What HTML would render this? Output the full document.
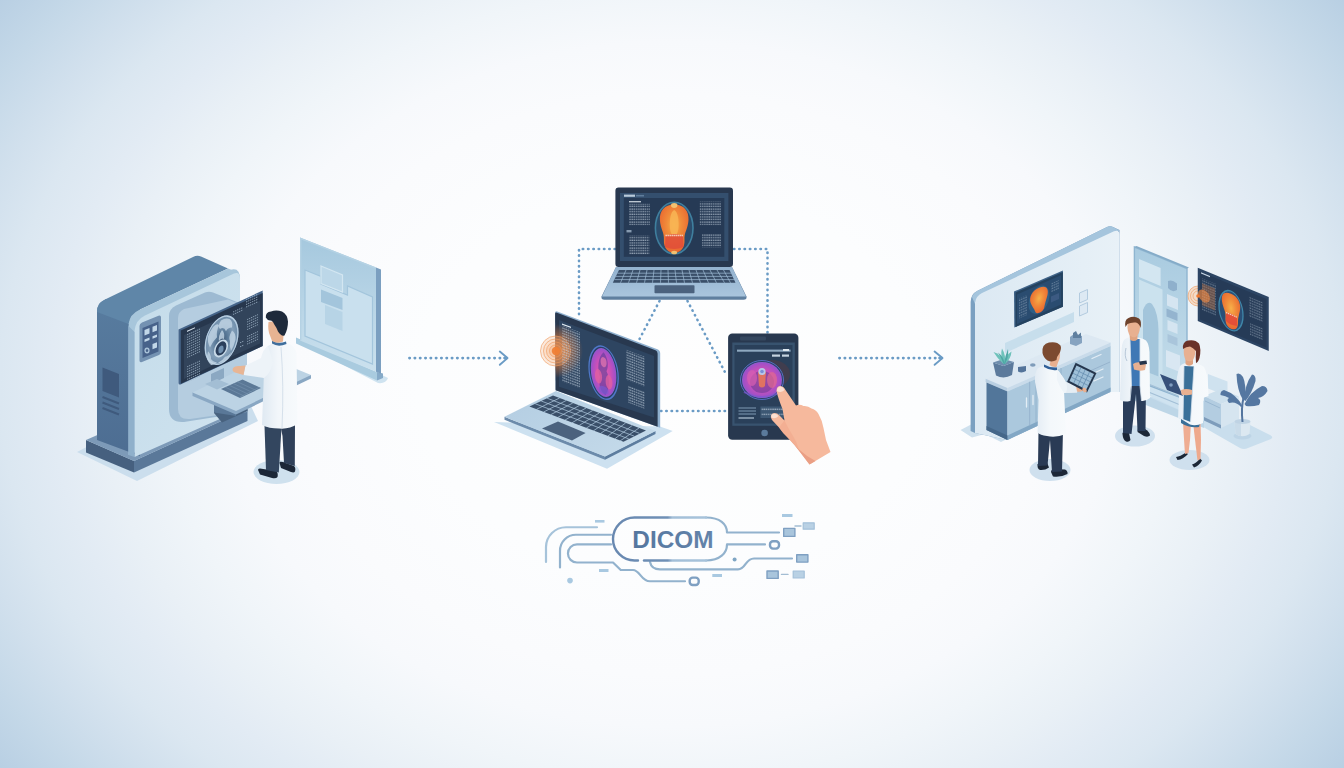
<!DOCTYPE html>
<html lang="en">
<head>
<meta charset="utf-8">
<title>DICOM</title>
<style>
html,body{margin:0;padding:0;width:1344px;height:768px;overflow:hidden;background:#f6f9fb;}
svg{display:block;position:absolute;left:0;top:0;}
text{font-family:"Liberation Sans",sans-serif;}
</style>
</head>
<body>
<svg width="1344" height="768" viewBox="0 0 1344 768">
<defs>
<radialGradient id="bg" gradientUnits="userSpaceOnUse" cx="0" cy="0" r="840" gradientTransform="translate(672 384) scale(1 0.769)">
<stop offset="0" stop-color="#fefefe"/>
<stop offset="0.3" stop-color="#fcfdfe"/>
<stop offset="0.45" stop-color="#fafbfd"/>
<stop offset="0.53" stop-color="#f7f9fc"/>
<stop offset="0.61" stop-color="#f0f5f9"/>
<stop offset="0.68" stop-color="#e9f0f6"/>
<stop offset="0.74" stop-color="#e2ebf4"/>
<stop offset="0.8" stop-color="#dbe7f1"/>
<stop offset="0.86" stop-color="#d1e0ed"/>
<stop offset="0.93" stop-color="#c4d8e8"/>
<stop offset="1" stop-color="#b8cfe3"/>
</radialGradient>
<linearGradient id="pillg" gradientUnits="userSpaceOnUse" x1="612" y1="0" x2="728" y2="0">
<stop offset="0" stop-color="#6888b0"/>
<stop offset="0.48" stop-color="#6f90b6"/>
<stop offset="0.52" stop-color="#a3bfd8"/>
<stop offset="1" stop-color="#a9c5dc"/>
</linearGradient>
<linearGradient id="txtg" gradientUnits="userSpaceOnUse" x1="632" y1="0" x2="712" y2="0">
<stop offset="0" stop-color="#54769f"/>
<stop offset="1" stop-color="#6484aa"/>
</linearGradient>
</defs>
<rect width="1344" height="768" fill="url(#bg)"/>

<!-- ===== ARROWS ===== -->
<g id="arrows" stroke="#6a9bc5" stroke-width="1.900" fill="none" stroke-linecap="round" stroke-linejoin="round">
<path d="M409.400 358.100H500.500" stroke-dasharray="0.400 4.910" stroke-width="2.600"/>
<path d="M499.800 351.600L507.500 358.100L499.800 364.800"/>
<path d="M504.500 358.100H506.500" stroke-width="2.600"/>
<path d="M839.400 358.100H935.500" stroke-dasharray="0.400 4.910" stroke-width="2.600"/>
<path d="M934.600 351.600L942.500 358.100L934.600 364.800"/>
<path d="M939.500 358.100H941.500" stroke-width="2.600"/>
</g>

<!-- ===== DOTTED LINKS ===== -->
<g id="links" stroke="#6a9bc5" stroke-width="2.600" fill="none" stroke-linecap="round" stroke-dasharray="0.400 4.900">
<path d="M615 249H579V316"/>
<path d="M734 249H767.5V333"/>
<path d="M659.5 301L639 340"/>
<path d="M687.5 301L727 376"/>
<path d="M661 411H727"/>
</g>

<!-- ===== DICOM ===== -->
<g id="dicom" fill="none" stroke-linecap="round" stroke-linejoin="round">
<g stroke="#92b2cd" stroke-width="2.2">
<path d="M546 562V547A20 20 0 0 1 566 527.25H597" stroke="#a6c3da"/>
<path d="M560 567.5V551A16 16 0 0 1 576 534.75H611"/>
<path d="M611 544.4H577A9 9 0 0 0 577 562.5H613L620.75 570H633C640 570 641 581.25 650 581.25H685"/>
<path d="M650 562C651 567 654 569.4 660 569.4H738C746 569.4 745 558.5 754 558.5H792"/>
<path d="M728 532.5H779"/>
<path d="M728 544.4H765"/>
<path d="M727 532.5C727 524 720 517.5 706 517.5"/>
<path d="M727 544.4C727 553 720 560.5 706 560.5"/>
</g>
<path d="M638 560.5H634.5A21.5 21.5 0 0 1 634.5 517.5H706" stroke="url(#pillg)" stroke-width="2.4"/>
<path d="M644 560.5H706" stroke="url(#pillg)" stroke-width="2.4"/>
<g stroke="#7fa0c2" stroke-width="2.4">
<rect x="689.7" y="577.6" width="9" height="7.4" rx="3"/>
<rect x="770" y="541.2" width="9" height="7.4" rx="3"/>
</g>
<g stroke="#7fa0c2" stroke-width="1.4" fill="#a9c5dc">
<rect x="783.7" y="528.4" width="11.2" height="8"/>
<rect x="796.7" y="554.7" width="11.2" height="7.4"/>
<rect x="767" y="571" width="11.2" height="7.4"/>
</g>
<g stroke="#a3c0d9" stroke-width="1.2" fill="#b9d1e4">
<rect x="803.2" y="522.8" width="11" height="6.4"/>
<rect x="793.2" y="571" width="11" height="7"/>
</g>
<path d="M795 526H801M781.5 574.4H788" stroke="#a3bdd3" stroke-width="1.4"/>
<g fill="#a9c9e1" stroke="none">
<rect x="595" y="520" width="9.5" height="2.6"/>
<rect x="599" y="569" width="9.5" height="3"/>
<rect x="712.3" y="574" width="9.7" height="3"/>
<rect x="782" y="514" width="10.5" height="3"/>
<circle cx="570" cy="580.6" r="2.8"/>
</g>
<circle cx="734.6" cy="559.6" r="2" fill="#7fa6c4"/>
</g>
<text x="632.300" y="548.200" font-size="23.600" font-weight="700" fill="url(#txtg)" textLength="81.200" lengthAdjust="spacingAndGlyphs">DICOM</text>

<!-- ===== LEFT SCENE ===== -->
<g id="left-scene">
<defs>
<linearGradient id="mLeft" x1="0" y1="0" x2="0" y2="1"><stop offset="0" stop-color="#587c9f"/><stop offset="1" stop-color="#4d6d92"/></linearGradient>
<linearGradient id="mFront" x1="0" y1="0" x2="1" y2="1"><stop offset="0" stop-color="#c4dcea"/><stop offset="1" stop-color="#d0e3ef"/></linearGradient>
<linearGradient id="glassg" x1="0" y1="0" x2="0" y2="1"><stop offset="0" stop-color="#a5c8de"/><stop offset="1" stop-color="#cbe1ee"/></linearGradient>
<linearGradient id="coatg" x1="0" y1="0" x2="1" y2="0"><stop offset="0" stop-color="#dfe9f2"/><stop offset="0.45" stop-color="#f2f6fa"/><stop offset="1" stop-color="#f7fafc"/></linearGradient>
<radialGradient id="brainGray" cx="0.5" cy="0.5" r="0.5"><stop offset="0" stop-color="#2d3e55"/><stop offset="0.35" stop-color="#5f7c97"/><stop offset="0.7" stop-color="#a9bfd1"/><stop offset="1" stop-color="#7d98b1"/></radialGradient>
</defs>
<!-- floor shadow -->
<path d="M77 452L137 481L258 421L250 404L100 440Z" fill="#cbdeed"/>
<!-- base -->
<path d="M86 440V452.5L134 472.5V461Z" fill="#46607f"/>
<path d="M134 461V472.5L247.5 421V409Z" fill="#5a7899"/>
<path d="M86 440L134 461L247.5 409L200 390Z" fill="#7d9ab8"/>
<!-- machine left face -->
<path d="M97 312Q97 303 106 299L140 305V456L97 440Z" fill="url(#mLeft)"/>
<!-- machine top (dark) -->
<path d="M99 304Q101 301.5 106 299L193 257Q197 255 201 256.5L228 268.5L139 310Q130 314 128.5 324L97 312Q97 307 99 304Z" fill="#5f86a8"/>
<!-- bevel -->
<path d="M228 268.5L236 271.5Q240 273.5 240 279L146 322Q137 326 135.5 334L128.5 324Q130 314 139 310Z" fill="#a7c6db"/>
<!-- front face -->
<path d="M128.5 326Q130 315 140 310.5L232 269.5Q240 268 240 279V410L128.5 455Z" fill="#a7c6db"/>
<path d="M134.5 331Q135.5 320 145 315.5L234 273.5Q240 271.5 240 278.5V410L134.5 457Z" fill="url(#mFront)"/>
<path d="M128.5 326V455L134.5 457V332Z" fill="#8fb0cb"/>
<!-- recessed panel -->
<path d="M169 316Q169 309 176 305.5L205 292.5Q209 291 213 292.5L247 306V412L184 422Q169 423 169 409Z" fill="#9dbad2"/>
<path d="M178 318Q178 312 184 309L228 299.5L247 307V411L190 419Q178 420 178 409Z" fill="#b5cde0"/>
<!-- control panel -->
<path d="M139.5 326Q139.5 323.500 142 322.500L158.500 315.800Q161 315 161 317.500V352Q161 354 159 355L142 362Q139.500 363 139.500 360.500Z" fill="#7492b2"/>
<path d="M142.500 328L158.500 321.500V351.500L142.500 358Z" fill="#47628a"/>
<g fill="#c2d7e8">
<path d="M144.500 330L149.500 328V333.500L144.500 335.500Z"/><path d="M152.500 326.800L157 325V330.500L152.500 332.300Z"/>
<path d="M144.500 339.500L149.500 337.500V340L144.500 342Z"/><path d="M152.500 336.300L157 334.500V337L152.500 338.800Z"/>
<path d="M152.500 344L157 342.200V347.500L152.500 349.300Z"/>
</g>
<ellipse cx="147" cy="350.500" rx="2.600" ry="3" fill="#a9c2d8"/><ellipse cx="147" cy="350.500" rx="1.200" ry="1.500" fill="#47628a"/>
<!-- vent -->
<path d="M102.500 367.500L119 374V397.500L102.500 391Z" fill="#3f5a7d"/>
<g stroke="#3f5a7d" stroke-width="2" fill="none"><path d="M102.500 397L119 403.500M102.500 402.500L119 409M102.500 408L119 414.500"/></g>
<!-- glass panel -->
<path d="M297 341L378 383Q386 384 388 378L305 338Z" fill="#cfe3f0"/>
<path d="M296 337.500V343.500L377 380.500V372Z" fill="#a9cbdf"/>
<path d="M377 372V380.500L383 378V373.500Z" fill="#86aac8"/>
<path d="M300 237.500L376 267.500V371.700L300 340.600Z" fill="url(#glassg)"/>
<path d="M376 267.500L381 269.500V373.700L376 371.700Z" fill="#7b9fc0"/>

<path d="M300.700 340.500V238.500L375.500 268" fill="none" stroke="#b5d2e4" stroke-width="1.400"/>
<path d="M305 270L321 276.500V284L347.500 295V286L372.500 297V364L305 336Z" fill="#c9e0ee" stroke="#a3c5dc" stroke-width="1.200"/>
<path d="M321 266L342.500 275V292L321 283.500Z" fill="#bcd7e8" stroke="#d3e6f1" stroke-width="1.200"/>
<path d="M321 289.500L342.500 298V310L321 302Z" fill="#a3c5dc"/>
<path d="M325 305L342.500 312V331L325 324Z" fill="#b7d4e6"/>
<!-- stand under desk -->
<path d="M214 400L247.500 396V411L222 422.500L214 413Z" fill="#48627f"/>
<path d="M214 400L236 409V416L214 412.500Z" fill="#5a7898"/>
<!-- desk -->
<path d="M192.500 392.500V396L236 414.500L311 378.500V375Z" fill="#89a7c3"/>
<path d="M192.500 392.500L236 411L311 375L267 357Z" fill="#bcd3e4"/>
<!-- monitor stand -->
<path d="M211 374L224 368V378L211 384Z" fill="#8ba8c2"/>
<path d="M205 384L217 379L229 384L217 389.500Z" fill="#a3bed4"/>
<!-- monitor -->
<path d="M178.500 329.400L262.700 290.600V346L180.500 384.500Q178.500 385 178.500 383Z" fill="#46658a"/>
<path d="M180.800 330.600L262.700 293V346L180.800 383.800Z" fill="#27374d"/>
<path d="M184 335L260 300.500V343.500L184 379Z" fill="#32445b"/>
<g transform="matrix(1 -0.455 0 1 0 0)">
<ellipse cx="221.600" cy="441" rx="16.900" ry="23.500" fill="#54779a"/>
<ellipse cx="221.600" cy="441" rx="16.900" ry="23.500" fill="url(#brainGray)" opacity="0.550"/>
<ellipse cx="221.600" cy="441" rx="16.300" ry="22.900" fill="none" stroke="#b7cde0" stroke-width="1.300"/>
<g fill="#c3d6e6" opacity="0.800">
<path d="M221 421Q226 420 230 424Q233 428 232 433Q228 431 226 434Q224 428 220 429Q217 425 221 421Z"/>
<path d="M213 424Q217 421 219 425Q216 430 217 436Q213 438 210 443Q207 436 208 431Q210 427 213 424Z"/>
<path d="M232 436Q236 440 235.500 447Q234 453 231 456Q229 451 230 446Q228 441 232 436Z"/>
<path d="M208 446Q211 450 211 455Q213 459 217 461Q214 463 211 461Q207 456 207 450Z"/>
<path d="M222 431Q225 435 224 441Q221 438 219 441Q218 435 222 431Z"/>
<path d="M225 459Q229 460 231 457Q230 462 226 463.500Q221 464.500 218 462Q222 462 225 459Z"/>
</g>
<ellipse cx="221" cy="449" rx="6.300" ry="7.500" fill="#2b3f5b"/>
<ellipse cx="221" cy="449" rx="6.300" ry="7.500" fill="none" stroke="#c9dbe9" stroke-width="1.700"/>
<ellipse cx="221" cy="450" rx="2.600" ry="3.600" fill="#6f8fae"/>
<g stroke="#9fb4c8" stroke-width="0.900" stroke-dasharray="1.300 0.700" fill="none" opacity="0.850">
<path d="M187 420H200M187 422.500H200M187 425H200M187 427.500H200M187 430H200M187 432.500H200M187 435H200M187 437.500H200M187 440H200M187 442.500H200"/>
<path d="M187 452H200M187 454.500H200M187 457H200M187 459.500H200M187 462H200M187 464.500H200M187 467H200"/>
<path d="M233 418H243M246 411.500H258M246 414H258M246 416.500H258M246 419H258M233 420.500H243"/>
<path d="M247 432H258M247 434.500H258M247 437H258M247 439.500H258M247 442H258"/>
<path d="M247 449H258M247 451.500H258M247 454H258M247 456.500H258M240 452H244M240 456H244"/>
</g>
<path d="M187 416.500H195" stroke="#d3dee8" stroke-width="1.100"/>
</g>
<!-- keyboard -->
<path d="M221 389L240 398L261 388L242.500 379.500Z" fill="#5b7896"/>
<g stroke="#7d99b5" stroke-width="0.500" fill="none"><path d="M225 387L244 396M229 385.200L248 394M233 383.400L252 392.200M237 381.600L256 390.400M240 397L259 387.500"/></g>
<!-- person shadow -->
<ellipse cx="276.500" cy="472" rx="23" ry="12" fill="#cfe1ee"/>
<!-- shoes -->
<path d="M279.500 463Q279 461 283 462L294 466Q296 468 295 471.500Q294 473 291 472L281 468Z" fill="#1c2737"/>
<path d="M258.500 471Q257 469 260 468.500L276 471Q278.500 473 277.500 477Q276 479 272 478L260 474.500Z" fill="#1c2737"/>
<!-- legs -->
<path d="M280.500 426L295 424.500L294.800 466L284 463L282.500 436Z" fill="#2f4059"/>
<path d="M264.500 426L281.500 428L278.800 472.500L266 470Z" fill="#33465f"/>
<!-- coat -->
<path d="M264.500 352Q267 344 277 342L288 343.500Q295 346 296.500 353L297.500 424Q289 429.500 279 428.500Q269 428.500 262 425L263.500 386Z" fill="url(#coatg)"/>
<path d="M281 347Q284 385 282 428" stroke="#d5e0eb" stroke-width="1" fill="none"/>
<!-- arm -->
<path d="M268 346Q263 349 261 358L245.500 365.500L243.500 375L264 378Q271 373 273 362Z" fill="#edf3f8"/>
<path d="M245.500 365.500L243.500 375L235 372.500Q231.500 371 233 368Q235 365.500 240 366Z" fill="#e8b594"/>
<!-- collar -->
<path d="M272 340.500Q278 344.500 286 341.500L286.500 344Q278 347.500 272 343.500Z" fill="#3f6e9c"/>
<!-- neck/face -->
<path d="M268.500 322Q267.500 330 270 335.500L272 341Q277.500 344 283 341.500L284 330L276 321Z" fill="#e7b392"/>
<!-- hair -->
<path d="M265.800 317.500Q265.500 312 271 311.500Q276 309.500 282 311.500Q287.500 314.500 288 321.500Q288 329 284.500 335.500Q281 336.500 278 331.500Q276.500 327.500 274 324Q272.500 320 270 320.500Q267.500 320.500 265.800 317.500Z" fill="#1e2a3b"/>
</g>

<!-- ===== CENTER DEVICES ===== -->
<g id="center-scene">
<defs>
<radialGradient id="brainO" cx="0.5" cy="0.42" r="0.6"><stop offset="0" stop-color="#f7b04a"/><stop offset="0.45" stop-color="#f08a3a"/><stop offset="1" stop-color="#e8652f"/></radialGradient>
<radialGradient id="brainP" cx="0.5" cy="0.5" r="0.55"><stop offset="0" stop-color="#dc62ae"/><stop offset="0.5" stop-color="#cc50b8"/><stop offset="0.85" stop-color="#a050c8"/><stop offset="1" stop-color="#6a80e0"/></radialGradient>
<radialGradient id="wifi" cx="0.5" cy="0.5" r="0.5"><stop offset="0" stop-color="#f07a30" stop-opacity="0.9"/><stop offset="0.3" stop-color="#f39a5a" stop-opacity="0.55"/><stop offset="1" stop-color="#f7b888" stop-opacity="0.22"/></radialGradient>
<radialGradient id="wifi2" cx="0.5" cy="0.5" r="0.5"><stop offset="0" stop-color="#f07a30" stop-opacity="0.75"/><stop offset="0.6" stop-color="#e8803c" stop-opacity="0.45"/><stop offset="1" stop-color="#e8803c" stop-opacity="0"/></radialGradient>
<linearGradient id="lbase" x1="0" y1="0" x2="1" y2="0.6"><stop offset="0" stop-color="#b3cde2"/><stop offset="1" stop-color="#c3d9e9"/></linearGradient>
<linearGradient id="lapBase" x1="0" y1="0" x2="0" y2="1"><stop offset="0" stop-color="#93b2cf"/><stop offset="1" stop-color="#a9c5dd"/></linearGradient>
<pattern id="txtdots" width="2.2" height="2.6" patternUnits="userSpaceOnUse"><rect x="0.2" y="0.5" width="1.5" height="1.1" fill="#c9d6e3" opacity="0.75"/></pattern>
<pattern id="keys" width="7.4" height="4.2" patternUnits="userSpaceOnUse"><rect width="7.4" height="4.2" fill="#9fbcd6"/><rect x="0.5" y="0.5" width="6.400" height="3.200" rx="0.6" fill="#3a4f69"/></pattern>
</defs>

<!-- top laptop -->
<path d="M616 267H732L746.500 296.500Q747 299.800 743.500 299.800H604.500Q601 299.800 601.500 296.500Z" fill="#5f7f9f"/>
<path d="M616 267H732L746 296.500H602Z" fill="url(#lapBase)"/>
<path d="M619 270H729.500L735.500 282.800H612.800Z" fill="#3a4f69"/>
<g stroke="#9fbcd6" stroke-width="0.700" fill="none">
<path d="M617.500 273.200H731M616 276.400H732.500M614.500 279.600H734"/>
<path d="M626 270L620.500 282.800M633 270L628.500 282.800M640 270L636.500 282.800M647 270L644.500 282.800M654 270L652.500 282.800M661 270L660.500 282.800M668 270L668.500 282.800M675 270L676.500 282.800M682 270L684.500 282.800M689 270L692.500 282.800M696 270L700.500 282.800M703 270L708.500 282.800M710 270L716.500 282.800M717 270L724.500 282.800M723.500 270L730.500 282.800"/>
</g>
<rect x="654.500" y="285.200" width="40" height="8" rx="0.800" fill="#4b627e"/>
<rect x="615.400" y="187.600" width="117.600" height="79.400" rx="3.200" fill="#28384f"/>
<rect x="620" y="193" width="108.400" height="68" fill="#344f6e"/>
<rect x="623.800" y="198" width="100.500" height="58.800" fill="#263a55"/>
<rect x="624" y="194.600" width="11" height="2.200" fill="#b9cbdb"/><rect x="636" y="194.900" width="8" height="1.600" fill="#5f7d9b"/>
<ellipse cx="674.200" cy="228" rx="18.800" ry="25.800" fill="#2c4c6c" stroke="#3f7f9e" stroke-width="1.600"/>
<path d="M674.200 204.500C684 204.500 689 211 688.500 220C688 229 684 232 684.500 240C685 248 680 253 674.200 253C668.400 253 663.400 248 663.900 240C664.400 232 660.400 229 659.900 220C659.400 211 664.400 204.500 674.200 204.500Z" fill="url(#brainO)"/>
<path d="M674.200 210C678 212 679 220 678.500 228C678 233 676 236 674.200 236C672.400 236 670.400 233 669.900 228C669.400 220 670.400 212 674.200 210Z" fill="#f8b555" opacity="0.850"/>
<path d="M665.500 236Q674.200 232 683 236L683.500 247Q674.200 251 665 247Z" fill="#e04a3a" opacity="0.800"/>
<path d="M665.500 235.500H683" stroke="#f6d5c0" stroke-width="1.400" stroke-dasharray="1.400 0.600"/>
<ellipse cx="674.200" cy="205.500" rx="3.200" ry="2.400" fill="#f2c070"/>
<ellipse cx="674.200" cy="252.500" rx="3" ry="1.800" fill="#f2c070"/>
<rect x="629" y="201.200" width="12" height="1.100" fill="#e3ebf2"/>
<rect x="629" y="203.800" width="21" height="21.300" fill="url(#txtdots)"/>
<rect x="629.300" y="235.700" width="20" height="19" fill="url(#txtdots)"/>
<rect x="699.700" y="201.700" width="21.100" height="23.400" fill="url(#txtdots)"/>
<rect x="702" y="234" width="18.800" height="13.400" fill="url(#txtdots)"/>
<rect x="626.500" y="230" width="5" height="2.400" fill="#9fb3c7" opacity="0.800"/>

<!-- left laptop -->
<path d="M494 422L607 468.700L672.700 431L660 426.500Z" fill="#cde1f0"/>
<path d="M504.500 416.800V419.800L605 459.800V456.500Z" fill="#6c8bab"/>
<path d="M605 456.500V459.800L655.500 434V430.900Z" fill="#5d7d9f"/>
<path d="M504.500 416.800L556 391L655.500 430.900L605 456.500Z" fill="url(#lbase)"/>
<path d="M529.400 406.600L553 395.500L646 430.500L623.500 441.700Z" fill="#3a4f69"/>
<g stroke="#b3cde2" stroke-width="0.700" fill="none">
<path d="M535.300 403.800L628.800 438.900M541.200 401L634.100 436.100M547.100 398.200L639.400 433.300"/>
<path d="M536.500 409.300L559.600 398M543.600 412L566.200 400.500M550.700 414.700L572.800 403M557.800 417.400L579.400 405.500M564.900 420.100L586 408M572 422.800L592.600 410.500M579.100 425.500L599.200 413M586.200 428.200L605.800 415.500M593.300 430.900L612.400 418M600.400 433.600L619 420.500M607.500 436.300L625.600 423M614.600 439L632.200 425.500M620 441L639 428"/>
</g>
<path d="M542 428.400L558 421.400L585.600 433L572 440.600Z" fill="#4b627e"/>
<!-- screen -->
<path d="M555.100 313Q555.100 310.700 557.300 311.500L658 349.500Q660.200 350.500 660.200 353V427.700L555.600 390.200Z" fill="#8fb0cf"/>
<path d="M555.100 314Q555.100 312 557 312.700L655.500 350.300Q657.600 351.200 657.600 353.500V426.800L555.600 390.200Z" fill="#28384f"/>
<path d="M559 320L654 355.900V417.500L559 386.700Z" fill="#2e4561"/>
<clipPath id="lscr"><path d="M555.100 314L657.600 353.500V426.800L555.600 390.200Z"/></clipPath>
<circle cx="556" cy="351" r="27" fill="url(#wifi2)" clip-path="url(#lscr)"/>
<circle cx="555.500" cy="351" r="15" fill="url(#wifi)"/>
<g fill="none" stroke="#f09a5c" stroke-width="0.700" opacity="0.900"><circle cx="555.500" cy="351" r="6"/><circle cx="555.500" cy="351" r="9"/><circle cx="555.500" cy="351" r="12"/><circle cx="555.500" cy="351" r="15"/></g>
<circle cx="556" cy="351" r="4.200" fill="#f07f35" opacity="0.900"/>
<g transform="matrix(1 0.378 0 1 0 0)">
<rect x="562" y="113" width="18" height="56" fill="url(#txtdots)"/>
<rect x="562" y="111" width="9" height="1.200" fill="#e3ebf2"/>
<rect x="626" y="113" width="18.600" height="30" fill="url(#txtdots)"/>
<rect x="628" y="148" width="16.600" height="17" fill="url(#txtdots)"/>
<ellipse cx="603.600" cy="144.400" rx="14.600" ry="26" fill="#2a3f66" stroke="#4f78c8" stroke-width="1.300"/>
<ellipse cx="603.600" cy="144.400" rx="12.800" ry="24" fill="url(#brainP)"/>
<path d="M603.600 124C608 128 609 136 606.500 142C610 148 610 158 605.500 166C601 166 598 158 600 150C597 144 598 130 603.600 124Z" fill="#5a3c98" opacity="0.600"/>
<ellipse cx="598.500" cy="150" rx="3.600" ry="7" fill="#e060a0" opacity="0.800"/>
<ellipse cx="609" cy="152" rx="3.400" ry="7" fill="#e060a0" opacity="0.800"/>
<ellipse cx="603.600" cy="134" rx="3" ry="5" fill="#e878b0" opacity="0.700"/>
<ellipse cx="603.600" cy="162" rx="5" ry="4" fill="#7a58d0" opacity="0.700"/>
</g>

<!-- tablet -->
<rect x="728.100" y="333.500" width="70.300" height="106.300" rx="4.200" fill="#28384f"/>
<rect x="732.300" y="342.500" width="62.500" height="83.300" fill="#38536f"/>
<rect x="734.500" y="345" width="58" height="78.500" fill="#2a405a"/>
<rect x="740" y="336.500" width="26" height="4" rx="1" fill="#34475f"/>
<rect x="737" y="349.600" width="53.600" height="2.100" fill="#8fa9c0"/>
<rect x="772" y="354.500" width="8" height="2.200" fill="#c5d3e0"/><rect x="782" y="354.500" width="7" height="2.200" fill="#c5d3e0"/>
<rect x="783" y="349" width="6" height="2" fill="#dfe8f0"/>
<ellipse cx="772" cy="374" rx="18" ry="14" fill="#4a3c48" opacity="0.700"/>
<ellipse cx="762" cy="380" rx="21.500" ry="19.500" fill="#2d3f68" stroke="#5570c0" stroke-width="1"/>
<ellipse cx="762" cy="380" rx="20" ry="18" fill="url(#brainP)"/>
<ellipse cx="762" cy="382" rx="12" ry="11" fill="#6a3c98" opacity="0.600"/>
<ellipse cx="752" cy="378" rx="5" ry="8" fill="#d860b0" opacity="0.700"/>
<ellipse cx="772" cy="380" rx="5" ry="8" fill="#e06a90" opacity="0.700"/>
<path d="M758 372H766L765 386Q762 389 759 386Z" fill="#e8785a" opacity="0.900"/>
<circle cx="762" cy="371.500" r="3.600" fill="#b9c8ea"/>
<circle cx="762" cy="371.500" r="1.800" fill="#7a90d8"/>
<path d="M744 392Q762 402 780 392" stroke="#7a58d0" stroke-width="2" fill="none" opacity="0.700"/>
<g stroke="#7f99b3" stroke-width="1.100"><path d="M738.500 408H756M738.500 411H756M738.500 414H756"/></g>
<path d="M738.500 418H754" stroke="#a9bccd" stroke-width="1.300"/>
<rect x="760.400" y="406.500" width="31.300" height="11.500" fill="#3d5874"/>
<rect x="761.500" y="408" width="29" height="3" fill="url(#txtdots)"/><rect x="761.500" y="413" width="29" height="3" fill="url(#txtdots)"/>
<circle cx="764.600" cy="433" r="3.300" fill="#5b7a9b"/>

<!-- hand -->
<path d="M776.500 391Q776.500 386 780.500 386Q784 386.500 785.500 390L796 405.500Q800 404 803.500 406Q808 405.500 811.500 408.500Q816 409.500 818.500 414Q822 420 823.500 428L826 440L830.500 452L809.500 464.500L800 452Q794 444 789 439Q783 433.500 779 427.500L772 420Q769.500 416 772.500 413.500Q776 412 779 415L784.500 420.500L782.500 409Q778 398 776.500 391Z" fill="#f6b99d"/>
<path d="M789 439Q794 444 800 452L809.500 464.500L815.500 461Q806 456 799 449.500Q794 443.500 789 439Z" fill="#ea9f85"/>
<path d="M779 427.500Q783 433.500 789 439Q794 444 799 449.500Q797 442 793 436Q788 428 784.500 420.500Z" fill="#f2ab8f" opacity="0.700"/>
<path d="M776.800 391Q777 386.800 780.500 386.600Q783.500 387 784.500 390Q781 393.500 776.800 391Z" fill="#fbe0d2"/>
<path d="M771.500 417.500Q770.500 414.500 773.500 413.800Q776.500 413.500 778.500 416Q775 419.500 771.500 417.500Z" fill="#fbe0d2"/>
</g>

<!-- ===== RIGHT SCENE ===== -->
<g id="right-scene">
<defs>
<linearGradient id="wallg" x1="0" y1="0" x2="1" y2="0"><stop offset="0" stop-color="#dce9f3"/><stop offset="1" stop-color="#e8f1f7"/></linearGradient>
<linearGradient id="coat2" x1="0" y1="0" x2="1" y2="0"><stop offset="0" stop-color="#e3ecf4"/><stop offset="0.5" stop-color="#f4f8fb"/><stop offset="1" stop-color="#f7fafc"/></linearGradient>
<linearGradient id="glass2" x1="0" y1="0" x2="0" y2="1"><stop offset="0" stop-color="#a9cbe0"/><stop offset="1" stop-color="#c6deeb"/></linearGradient>
</defs>
<!-- floor shadows -->
<path d="M960.500 430L972 424L1008 438.500L1001 442L985 434L972 437.500Z" fill="#cfe1ee"/>
<path d="M1128 396L1198 424L1240 448Q1244 450 1248 448L1271 439Q1274 437 1270 435L1232 416L1190 398Z" fill="#c9deed"/>
<!-- wall -->
<path d="M970.600 302Q970.600 294 978 290.500L1106 227.500Q1110 225.500 1113 227L1119.500 230V392H1110L1007 440L975 433L970.600 431Z" fill="#7aa0c1"/>
<path d="M972 297Q973.500 292.500 978 290.500L1106 227.500Q1110 225.500 1113 227L1119.500 230.500L982 294.500Q976 297.500 975 304Z" fill="#a5c5dd"/>
<path d="M975 302.500Q976 296 982 293L1114 231.200Q1119.500 229.200 1119.500 234.500V392H1110L1007 440L975 433Z" fill="url(#wallg)"/>
<!-- shelf/backsplash -->
<path d="M1005 343L1074 312V322L1005 353Z" fill="#c7deec"/>
<!-- TV on wall -->
<path d="M1014 291.600L1062.900 270.400V306.700L1014.300 327.600Z" fill="#3f6388"/>
<path d="M1015.500 292.500L1062.900 272V306.700L1015.500 327Z" fill="#24425f"/>
<path d="M1017 294.500L1061 275.200V304.500L1017 324Z" fill="#2a4c70"/>
<g transform="matrix(1 -0.441 0 1 0 0)">
<ellipse cx="1039" cy="758" rx="10.500" ry="13.500" fill="#2f5f86" />
<path d="M1039 746C1046 746 1049 751 1047.500 757C1046 762 1045 764 1044 769C1042 772 1037 772 1035.500 769C1034 764 1032 762 1030.500 757C1029 751 1032 746 1039 746Z" fill="url(#brainO)"/>
<rect x="1019" y="748" width="8" height="20" fill="url(#txtdots)" opacity="0.600"/>
<rect x="1051" y="747" width="8" height="9" fill="url(#txtdots)" opacity="0.600"/>
<rect x="1051" y="760" width="8" height="6" fill="#3c5a82"/>
</g>
<!-- frames on wall -->
<path d="M1079.500 293L1087.500 289.500V299.500L1079.500 303Z" fill="#dde9f3" stroke="#b3cbdf" stroke-width="1"/>
<path d="M1079.500 306L1087.500 302.500V312.500L1079.500 316Z" fill="#dde9f3" stroke="#b3cbdf" stroke-width="1"/>
<!-- counter -->
<path d="M985.600 378.750L1086 334L1110.600 342.500L1007.500 388Z" fill="#dce8f2"/>
<path d="M985.600 378.750V382L1007.500 391.500V388Z" fill="#b9cfe2"/>
<path d="M1007.500 388V391.500L1110.600 346V342.500Z" fill="#c9dbea"/>
<path d="M986.500 382.500L1007.500 391.500V440L986.500 430Z" fill="#52769a"/>
<path d="M1007.500 391.500L1110.600 346V391L1007.500 440Z" fill="#abc8dd"/>
<path d="M1007.500 435.500L1110.600 387.500V392L1007.500 440Z" fill="#82a7c5"/>
<path d="M986.500 426L1007.500 435.500V440L986.500 430Z" fill="#456789"/>
<g stroke="#90adc9" stroke-width="0.800" fill="none"><path d="M1029.700 381.700V426M1036 379V423M1061 368V411"/><path d="M1061 384L1110 362"/></g>
<g stroke="#e3edf5" stroke-width="1.300" stroke-linecap="round"><path d="M1026.500 398V407M1033 395.500V404.500M1092 358.500L1101 354.500M1094 373L1103 369M1094 381L1103 377"/></g>
<!-- counter items -->
<path d="M1070 337L1074 334L1082 336V343L1076 346L1070 344Z" fill="#86a3c0"/>
<path d="M1073 333L1076 331L1078 335L1081 332.500V338H1073Z" fill="#5f7f9f"/>
<path d="M1018 367L1026 366V371Q1022 373.500 1018 371.500Z" fill="#54749a"/>
<ellipse cx="1032.800" cy="365" rx="2.800" ry="1.800" fill="#7f9cba"/>
<!-- counter plant -->
<path d="M993 362.500L1003.500 366L1014 362L1012 375Q1004 379.500 996 375.500Z" fill="#5b7a9c"/>
<path d="M993 362.500L1003.500 366L1014 362L1003.500 359Z" fill="#6f8eae"/>
<g fill="#6ec2ba"><path d="M1003.500 364Q997 358 993.500 352Q1000 354 1004 361Z"/><path d="M1003.500 364Q1000 355 1002 348.500Q1006 355 1005 364Z"/><path d="M1003.500 364Q1006 355 1011.500 351.500Q1011 359 1005 364Z"/></g>
<g fill="#4fa7a5"><path d="M1003.500 364Q1001 357 998 352.500Q1003 356 1004.500 363Z"/><path d="M1004 364Q1005 356 1008 349Q1009 357 1005 364Z"/></g>

<!-- glass panel 2 -->
<path d="M1128 388L1204 421V428L1128 398Z" fill="#bdd6e7"/>
<path d="M1128 386L1146 378L1222 408L1204 421Z" fill="#cfe3f0"/>
<path d="M1134.400 247L1187 268.500V400L1134.400 380Z" fill="url(#glass2)" stroke="#8fb5d0" stroke-width="1.400"/>
<path d="M1134.400 247L1136.500 246L1189 267.500L1187 268.500Z" fill="#84abc8"/>
<path d="M1139 259L1160.600 268V286L1139 277Z" fill="#d3e6f1"/>
<path d="M1139 279.500L1162.500 289.500V378L1139 369Z" fill="#cbe2ee"/>
<path d="M1143 310Q1147 300 1152 304Q1158 312 1158.500 330V376.500L1143 370.500Z" fill="#a3c5db"/>
<path d="M1168 281Q1172 279 1177 283.500V290Q1172 293 1168 288Z" fill="#8fb0cc"/>
<path d="M1167 294L1178 298.500V310L1167 305.500Z" fill="#d5e5f1"/>
<path d="M1166.500 308.500L1177.500 313V321L1166.500 316.500Z" fill="#94b4cf"/>
<path d="M1167.500 320L1177.500 324V334L1167.500 330Z" fill="#d5e5f1"/>
<path d="M1167.500 334L1177.500 338V346L1167.500 342Z" fill="#a9c5db"/>
<path d="M1166 350L1180 355.500V372L1166 366.500Z" fill="#d9e7f2"/>
<path d="M1146 383L1200 405M1146 391L1200 413" stroke="#a3bfd6" stroke-width="1.200" fill="none"/>
<!-- right TV -->
<circle cx="1198" cy="296" r="10" fill="#f6c9a4" opacity="0.550"/>
<g fill="none" stroke="#f0a36c" stroke-width="0.700"><circle cx="1198" cy="296" r="10"/><circle cx="1198" cy="296" r="7.500"/><circle cx="1198" cy="296" r="5"/></g>
<path d="M1197.750 267.750L1268.750 297V351L1197.750 321Z" fill="#2c4564"/>
<path d="M1200 271.500L1266.500 299V347.500L1200 319.500Z" fill="#263b57"/>
<g transform="matrix(1 0.412 0 1 0 0)">
<circle cx="1204" cy="-200" r="6" fill="#e8843f" opacity="0.700"/>
<rect x="1202" y="-217" width="14" height="32" fill="url(#txtdots)" opacity="0.550"/>
<rect x="1202" y="-212" width="13" height="22" fill="#d9773a" opacity="0.350"/>
<rect x="1249" y="-218" width="14" height="20" fill="url(#txtdots)" opacity="0.600"/>
<rect x="1250" y="-192" width="13" height="12" fill="url(#txtdots)" opacity="0.600"/>
<rect x="1201" y="-222.500" width="9" height="1.300" fill="#c9d8e6"/>
<ellipse cx="1231" cy="-196.500" rx="12" ry="19.500" fill="#2a5078" stroke="#3f86a8" stroke-width="1.300"/>
<path d="M1231 -213.500C1238 -213.500 1241 -208 1240 -201C1239 -195 1238 -193 1238 -187C1238 -181 1235 -178.500 1231 -178.500C1227 -178.500 1225 -182 1225.500 -188C1226 -194 1223 -196 1222 -202C1221 -209 1224 -213.500 1231 -213.500Z" fill="url(#brainO)"/>
<path d="M1226 -192Q1231 -195 1237 -192V-184Q1231 -181 1226 -184Z" fill="#e24838" opacity="0.850"/>
<path d="M1226 -192.500H1237" stroke="#f6d5c0" stroke-width="1.200" stroke-dasharray="1.300 0.600"/>
</g>
<circle cx="1198" cy="296" r="1.800" fill="#f07a30"/>

<!-- low cabinet -->
<path d="M1208 374L1227.500 381.500V396L1208 388.500Z" fill="#cfe2ef"/>
<path d="M1204 396L1221 389L1239 396.500L1221 404Z" fill="#cde0ed"/>
<path d="M1204 396L1221 404V428L1204 420Z" fill="#b3cde1"/>
<path d="M1221 404L1239 396.500V419.500L1221 428Z" fill="#d6e5f0"/>
<path d="M1204 417L1221 425V428.500L1204 420.500Z" fill="#7d9cbb"/>
<path d="M1205 401L1220 408" stroke="#9ab8d2" stroke-width="1" fill="none"/>
<!-- right plant -->
<ellipse cx="1242.500" cy="436" rx="9" ry="3.400" fill="#bdd4e6"/>
<path d="M1234.500 421.500Q1242.500 424.500 1250.500 421.500L1249.500 434Q1242.500 438.500 1235.500 434Z" fill="#dce8f1"/>
<path d="M1234.500 421.500Q1238 423 1241 423.300L1241 436.300Q1238 436 1235.500 434Z" fill="#c9dbe9"/>
<ellipse cx="1242.500" cy="421.500" rx="8" ry="2.600" fill="#bfd3e4"/>
<path d="M1242.500 422Q1241 408 1243.500 398" stroke="#54759f" stroke-width="2" fill="none"/>
<g fill="#5577a1">
<path d="M1243 400Q1237 390 1236.500 374Q1240 372 1243 377Q1246.500 385 1245 399Z"/>
<path d="M1244 400Q1245 384 1252 374.500Q1256 375 1255.500 381Q1252 393 1245.500 401Z"/>
<path d="M1244.500 404Q1250 392 1262 386Q1267 386 1267.500 391Q1264 397 1258 398Q1262 400 1259 405Q1252 407 1246 406Z"/>
<path d="M1242.500 406Q1236 394 1224 390Q1220 391 1220.500 395Q1226 396 1229 398Q1226 400 1229 403Q1236 401 1241 407Z"/>
</g>

<!-- person 2 (center) -->
<ellipse cx="1135" cy="436" rx="20" ry="10.500" fill="#cfe0ee"/>
<path d="M1122.500 434Q1122 432 1125 432L1129 433L1130.500 440Q1129 442.500 1126 441.500Q1123 440 1122.500 434Z" fill="#1c2737"/>
<path d="M1138 428L1145 429Q1150 432 1150 435.500Q1148 437.500 1144 436L1137.500 432Z" fill="#1c2737"/>
<path d="M1123 384H1146L1145.500 431L1137.500 431L1136 394L1131.500 434L1123 433Z" fill="#2a3d5a"/>
<path d="M1124 340Q1127 337 1133 337Q1141 337 1146 340.500Q1149 344 1149.500 352L1150 398Q1146 401.500 1141.500 401L1140 386H1131L1130 401Q1124 402.500 1120 400L1121.500 352Q1121.500 344 1124 340Z" fill="url(#coat2)"/>
<path d="M1130 339H1140L1140 386H1131.500Z" fill="#3f78b5"/>
<path d="M1130 339L1131.500 386L1130 401M1140 339V386L1141.500 401" stroke="#d6e2ed" stroke-width="0.800" fill="none"/>
<path d="M1126 348Q1124 356 1127 361" stroke="#a9bccf" stroke-width="0.800" fill="none"/>
<path d="M1133 364Q1136 361.500 1141 362.500L1146 364.500L1145 370Q1139 371.500 1134 369.500Z" fill="#e8b090"/>
<path d="M1139 361.500L1146.500 360.500L1147 364L1140 365Z" fill="#25344a"/>
<path d="M1129.500 334L1137.500 334.500V339.500Q1133.500 342.500 1130 339.500Z" fill="#dfa482"/>
<path d="M1127.500 323Q1127 333 1130.500 336Q1134 338.500 1137 336Q1140.500 332 1140 323Q1134 319 1127.500 323Z" fill="#e8b090"/>
<path d="M1125.500 327Q1124 320 1128.500 318Q1134 315.500 1139 318.500Q1142 321 1140.500 328Q1139.500 323.500 1136 322.500Q1131 322 1127.500 324Z" fill="#6e422c"/>

<!-- person 3 (woman) -->
<ellipse cx="1189.500" cy="460" rx="20" ry="10" fill="#cfe0ee"/>
<path d="M1176 457Q1180 456.500 1186 452.500L1188 454Q1183 459.500 1177.500 460Z" fill="#1c2737"/>
<path d="M1192 464.500Q1196 463.500 1200 458.500L1202 460.500Q1199 466 1194 467.500Z" fill="#1c2737"/>
<path d="M1183 422H1191L1190 440L1188.500 453L1185 454Q1184 440 1183 422Z" fill="#efad92"/>
<path d="M1193 422H1200.500Q1201.500 440 1200.500 459L1197.500 460.500Q1195 440 1193 422Z" fill="#eea98d"/>
<path d="M1181 418Q1190 425 1200 423.500L1199 427Q1190 428.500 1181 423Z" fill="#3a7099"/>
<path d="M1180 366Q1184 362 1190 362.500Q1199 363 1204 367Q1207.500 373 1208 385L1208.500 396L1203 398L1203 423Q1196 426.500 1190 424.500L1181 419L1178 418L1179 396L1176 392Q1176 375 1180 366Z" fill="url(#coat2)"/>
<path d="M1184 366L1194 366.500L1190.500 422L1183 419Z" fill="#3a7099"/>
<path d="M1184 366L1183 419M1194 366.500L1190.500 422" stroke="#d6e2ed" stroke-width="0.800" fill="none"/>
<path d="M1160 374L1176 380.500L1183 396L1167 390Z" fill="#36507a"/>
<circle cx="1171" cy="385" r="1.800" fill="#7f9cc0"/>
<path d="M1181 390Q1186 388 1192 390L1192 394.500Q1186 396 1181.500 394.500Z" fill="#e8b090"/>
<path d="M1185.500 358H1193V364Q1189 367.500 1185.500 364Z" fill="#dfa482"/>
<path d="M1184 347Q1183 357 1186 360Q1189.500 362.500 1193 360Q1196 355 1195.500 347Q1190 343 1184 347Z" fill="#e8b090"/>
<path d="M1183 349Q1182 342 1188 340.500Q1195 339 1199 343.500Q1201.500 349 1199.500 358Q1198 362.500 1196 363Q1195.500 356 1196 351Q1193 347.500 1190 346.500Q1186 346.500 1183 349Z" fill="#6a3228"/>

<!-- person 1 (left, back view) -->
<ellipse cx="1050" cy="470" rx="20.500" ry="11" fill="#cfe0ee"/>
<path d="M1037.500 464L1047 462.500L1049 467.500Q1045 470.500 1040 470Q1037 469 1037.500 464Z" fill="#1c2737"/>
<path d="M1051 472Q1051 469.500 1054 469L1065 469.500Q1068 471 1067.500 474Q1061 477.500 1053 476.500Z" fill="#1c2737"/>
<path d="M1038.500 430H1063L1062 471.500L1052 472L1050 440L1047.500 465.500L1038 466Z" fill="#2a3b55"/>
<path d="M1038 368Q1042 365.500 1049 366.500L1056 369Q1061 372 1063.500 380L1066 434Q1056 438 1047 436Q1040 435 1037.500 432.500L1038.500 400L1035 382Q1034.500 372 1038 368Z" fill="url(#coat2)"/>
<path d="M1057 371Q1062 374 1066 382L1079 385.500L1077 392.500L1064 393Q1060 388 1057 380Z" fill="#eef4f9"/>
<path d="M1066 382L1079 385.500L1077 392.500L1066 393Q1068 388 1066 382Z" fill="#e2ebf3" opacity="0.800"/>
<path d="M1076 386Q1079 384 1083 386.500L1084.500 390Q1081 392.500 1077 391.500Z" fill="#e8b090"/>
<path d="M1044 364.500Q1050 368 1057 367.500L1057 370Q1050 371 1044 367Z" fill="#2f5f98"/>
<path d="M1052 356L1060 352Q1060.500 358 1058 362.500L1056.500 367Q1052 367.500 1049.500 365Z" fill="#e8b090"/>
<path d="M1042.500 353Q1041.500 344 1049 342.500Q1057 341 1060.500 345.500Q1062 349 1059 354Q1057 356 1056.500 360Q1052 362.500 1047.500 360.500Q1043.500 358 1042.500 353Z" fill="#7c4a30"/>
<!-- held tablet -->
<path d="M1075.600 362.750L1096.500 373L1087 392.500L1067 382Z" fill="#25364d"/>
<path d="M1076.500 365.500L1094 374L1086.300 389.500L1069.500 381Z" fill="#9fc0d8"/>
<g stroke="#5f86aa" stroke-width="0.700" fill="none"><path d="M1074.700 369.400L1092.100 377.900M1072.900 373.200L1090.200 381.700M1071.200 377.100L1088.300 385.600M1080.900 367.600L1073.700 383.100M1085.200 369.700L1078 385.300M1089.600 371.800L1082.200 387.400"/></g>
<path d="M1082 389Q1084 387 1086 388.500L1087 391.500L1084 392.500Z" fill="#e8b090"/>
</g>

</svg>
</body>
</html>
